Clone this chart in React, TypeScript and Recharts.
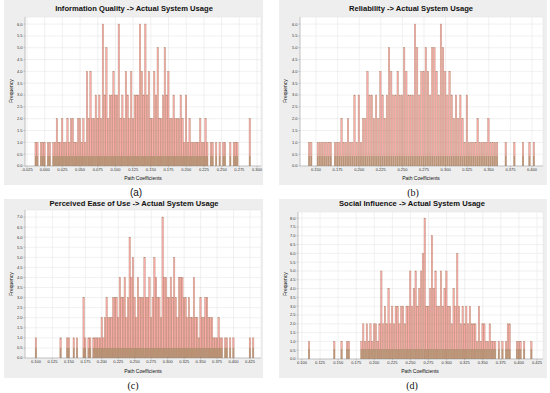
import React from "react";
import { BarChart, Bar, XAxis, YAxis, CartesianGrid } from "recharts";

// bootstrap histograms, bin width 0.0025, counts
const BIN_STEP = 0.0025;

const iqStart = -0.0125;
const iqCounts = [
  1, 1, 0, 1, 1,
  1, 0, 1, 1, 0, 1, 1, 2, 1, 1,
  2, 1, 1, 2, 1, 2, 2, 1, 1, 2,
  2, 1, 2, 1, 4, 2, 4, 2, 2, 3,
  2, 3, 2, 6, 3, 5, 2, 3, 3, 4,
  3, 3, 6, 2, 3, 2, 4, 3, 2, 4,
  2, 3, 3, 3, 6, 4, 3, 6, 3, 4,
  2, 2, 4, 3, 5, 2, 2, 3, 5, 3,
  4, 2, 2, 3, 2, 2, 2, 3, 2, 1,
  3, 1, 2, 1, 1, 1, 1, 1, 2, 1,
  1, 2, 1, 0, 1, 1, 0, 1, 0, 1,
  0, 1, 1, 0, 0, 1, 0, 1, 1, 1,
  0, 0, 0, 0, 0, 0, 2,
];

const relStart = 0.1425;
const relCounts = [
  1, 1, 0, 0, 1, 1, 1, 1, 1, 1,
  1, 0, 1, 1, 1, 2, 1, 1, 2, 1,
  1, 3, 1, 3, 1, 2, 2, 4, 3, 3,
  2, 3, 2, 4, 3, 2, 3, 5, 4, 3,
  3, 4, 3, 3, 5, 4, 3, 3, 3, 6,
  5, 3, 4, 4, 5, 4, 3, 5, 5, 4,
  3, 6, 5, 4, 3, 4, 3, 2, 3, 2,
  3, 2, 1, 3, 1, 1, 1, 1, 2, 1,
  1, 1, 1, 2, 1, 1, 1, 1, 0, 0,
  0, 1, 0, 0, 0, 1, 0, 0, 0, 1,
  0, 0, 1, 0, 1,
];

const peouStart = 0.1;
const peouCounts = [
  1, 0, 0, 0, 0, 0, 0, 0, 0, 0,
  0, 0, 0, 0, 0, 1, 0, 0, 0, 1,
  1, 0, 0, 1, 0, 1, 0, 0, 0, 3,
  1, 0, 1, 1, 0, 1, 1, 1, 1, 1,
  2, 1, 2, 3, 2, 2, 2, 3, 3, 3,
  2, 4, 3, 3, 4, 2, 3, 6, 4, 5,
  3, 2, 4, 3, 3, 3, 5, 3, 3, 4,
  2, 3, 5, 4, 3, 3, 2, 7, 4, 4,
  3, 3, 4, 3, 5, 3, 2, 4, 4, 4,
  3, 3, 2, 3, 2, 2, 4, 2, 2, 1,
  3, 2, 2, 3, 3, 2, 2, 2, 1, 1,
  1, 2, 1, 1, 0, 1, 1, 0, 1, 0,
  1, 0, 0, 0, 0, 0, 0, 0, 0, 0,
  1, 0, 1,
];

const siStart = 0.1;
const siCounts = [
  0, 0, 0, 0, 1, 0, 0, 0, 0, 0,
  0, 0, 0, 0, 0, 0, 0, 0, 1, 0,
  0, 0, 1, 0, 0, 1, 1, 0, 0, 0,
  0, 0, 0, 1, 2, 1, 2, 1, 2, 1,
  2, 2, 1, 2, 5, 2, 3, 2, 4, 2,
  3, 2, 3, 3, 2, 3, 3, 2, 3, 3,
  5, 3, 4, 5, 3, 4, 5, 6, 8, 3,
  3, 4, 7, 4, 5, 3, 3, 5, 3, 4,
  5, 3, 3, 2, 4, 3, 6, 3, 2, 3,
  2, 3, 2, 3, 2, 2, 2, 1, 3, 1,
  2, 2, 1, 1, 2, 1, 1, 1, 0, 1,
  0, 1, 0, 1, 2, 2, 0, 0, 0, 1,
  1, 1, 0, 1, 0, 0, 0, 1,
];

const iqTicks = [-0.025, 0, 0.025, 0.05, 0.075, 0.1, 0.125, 0.15, 0.175, 0.2, 0.225, 0.25, 0.275, 0.3];
const relTicks = [0.15, 0.175, 0.2, 0.225, 0.25, 0.275, 0.3, 0.325, 0.35, 0.375, 0.4];
const peouTicks = [0.1, 0.125, 0.15, 0.175, 0.2, 0.225, 0.25, 0.275, 0.3, 0.325, 0.35, 0.375, 0.4, 0.425];
const siTicks = [0.1, 0.125, 0.15, 0.175, 0.2, 0.225, 0.25, 0.275, 0.3, 0.325, 0.35, 0.375, 0.4, 0.425];

const yTicks6 = [0, 0.5, 1, 1.5, 2, 2.5, 3, 3.5, 4, 4.5, 5, 5.5, 6];
const yTicks7 = [0, 0.5, 1, 1.5, 2, 2.5, 3, 3.5, 4, 4.5, 5, 5.5, 6, 6.5, 7];
const yTicks8 = [0, 0.5, 1, 1.5, 2, 2.5, 3, 3.5, 4, 4.5, 5, 5.5, 6, 6.5, 7, 7.5, 8];

const titles = [
  "Information Quality -> Actual System Usage",
  "Reliability -> Actual System Usage",
  "Perceived Ease of Use -> Actual System Usage",
  "Social Influence -> Actual System Usage",
];
const captions = ["(a)", "(b)", "(c)", "(d)"];

function toBins(start: number, counts: number[]) {
  return counts
    .map((c, i) => ({ x: +(start + i * BIN_STEP).toFixed(4), count: c }))
    .filter((d) => d.count > 0);
}

function HistBar(props: any) {
  const { x, y, width, height } = props;
  if (!height || height <= 0) return <g />;
  const band = Math.min(height, 10);
  return (
    <g>
      <rect x={x} y={y} width={width} height={height} fill="#ff4d4d" fillOpacity={0.45} stroke="#b08468" strokeWidth={0.45} strokeOpacity={0.9} />
      <rect x={x} y={y + height - band} width={width} height={band} fill="#8c8450" fillOpacity={0.55} />
    </g>
  );
}

const sans = "'Liberation Sans', Arial, sans-serif";
const serif = "'Liberation Serif', 'Times New Roman', serif";

interface PanelProps {
  left: number;
  top: number;
  width: number;
  height: number;
  plot: { top: number; right: number; yw: number; xh: number };
  data: { x: number; count: number }[];
  xDomain: [number, number];
  xTicks: number[];
  yMax: number;
  yTicks: number[];
}

function HistPanel({ left, top, width, height, plot, data, xDomain, xTicks, yMax, yTicks }: PanelProps) {
  return (
    <div style={{ position: "absolute", left, top, width, height, background: "#eeeeee" }}>
      <BarChart width={width} height={height} data={data} margin={{ top: plot.top, right: plot.right, bottom: 0, left: 0 }}>
        <CartesianGrid stroke="#e2e2e2" strokeWidth={0.5} fill="#ffffff" />
        <XAxis
          type="number"
          dataKey="x"
          domain={xDomain}
          ticks={xTicks}
          interval={0}
          allowDataOverflow
          height={plot.xh}
          tickFormatter={(v: number) => v.toFixed(3)}
          tick={{ fontSize: 4, fill: "#333", fontFamily: sans }}
          tickSize={1.5}
          tickMargin={0.5}
          stroke="#999"
          strokeWidth={0.5}
        />
        <YAxis
          type="number"
          domain={[0, yMax]}
          ticks={yTicks}
          interval={0}
          allowDataOverflow
          width={plot.yw}
          tickFormatter={(v: number) => v.toFixed(1)}
          tick={{ fontSize: 4, fill: "#333", fontFamily: sans }}
          tickSize={1.5}
          tickMargin={1}
          stroke="#999"
          strokeWidth={0.5}
        />
        <Bar dataKey="count" barSize={1.4} shape={HistBar} isAnimationActive={false} />
      </BarChart>
    </div>
  );
}

function Txt({ x, y, children, size, bold, font, rotate }: any) {
  return (
    <div
      style={{
        position: "absolute",
        left: x,
        top: y,
        transform: `translate(-50%, -50%)${rotate ? " rotate(-90deg)" : ""}`,
        whiteSpace: "nowrap",
        fontSize: size,
        fontWeight: bold ? "bold" : "normal",
        fontFamily: font || sans,
        color: "#111",
        lineHeight: 1,
      }}
    >
      {children}
    </div>
  );
}

export default function App() {
  const panels = [
    { left: 4, top: 0, width: 259, height: 185, plot: { top: 17, right: 2, yw: 21, xh: 19 }, data: toBins(iqStart, iqCounts), xDomain: [-0.0278, 0.3056] as [number, number], xTicks: iqTicks, yMax: 6.3, yTicks: yTicks6 },
    { left: 279, top: 0, width: 268, height: 185, plot: { top: 17, right: 4, yw: 21, xh: 19 }, data: toBins(relStart, relCounts), xDomain: [0.1315, 0.4127] as [number, number], xTicks: relTicks, yMax: 6.3, yTicks: yTicks6 },
    { left: 4, top: 199, width: 259, height: 179, plot: { top: 11, right: 2, yw: 21, xh: 20 }, data: toBins(peouStart, peouCounts), xDomain: [0.0833, 0.4417] as [number, number], xTicks: peouTicks, yMax: 7.35, yTicks: yTicks7 },
    { left: 279, top: 199, width: 268, height: 179, plot: { top: 13, right: 4, yw: 19, xh: 19 }, data: toBins(siStart, siCounts), xDomain: [0.0945, 0.4333] as [number, number], xTicks: siTicks, yMax: 8.35, yTicks: yTicks8 },
  ];
  const titlePos = [[134, 9], [411, 9], [134, 204], [412, 204]];
  const yLabelPos = [[11, 91], [285, 91], [11, 284], [285, 284]];
  const xLabelPos = [[143, 178], [421, 178], [143, 371], [420, 371]];
  const captionPos = [[136, 193], [413, 193], [133, 386], [412, 386]];

  return (
    <div style={{ position: "absolute", left: 0, top: 0, width: 550, height: 393, background: "#fff", overflow: "hidden" }}>
      {panels.map((p, i) => (
        <HistPanel key={i} {...p} />
      ))}
      {titles.map((t, i) => (
        <Txt key={"t" + i} x={titlePos[i][0]} y={titlePos[i][1]} size={7.6} bold>
          {t}
        </Txt>
      ))}
      {yLabelPos.map((p, i) => (
        <Txt key={"y" + i} x={p[0]} y={p[1]} size={5} rotate>
          Frequency
        </Txt>
      ))}
      {xLabelPos.map((p, i) => (
        <Txt key={"x" + i} x={p[0]} y={p[1]} size={5}>
          Path Coefficients
        </Txt>
      ))}
      {captions.map((c, i) => (
        <Txt key={"c" + i} x={captionPos[i][0]} y={captionPos[i][1]} size={10} font={i === 0 ? sans : serif}>
          {c}
        </Txt>
      ))}
    </div>
  );
}
